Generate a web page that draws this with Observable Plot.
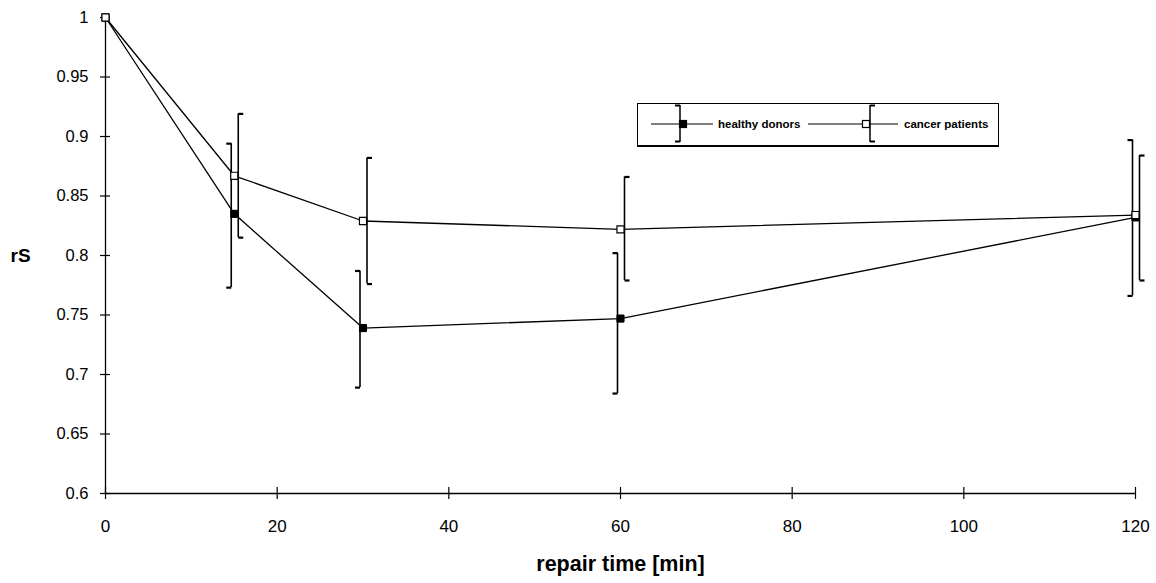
<!DOCTYPE html>
<html><head><meta charset="utf-8">
<script src="https://cdn.jsdelivr.net/npm/d3@7"></script>
<script src="https://cdn.jsdelivr.net/npm/@observablehq/plot@0.6"></script>
<style>
body{margin:0;background:#fff;}
#wrap{position:relative;width:1156px;height:583px;overflow:hidden;}
#legend{position:absolute;left:637px;top:103px;width:360px;height:41px;border:1px solid #000;border-bottom-width:2px;background:#fff;}
#legend svg{position:absolute;left:0;top:0;}
</style></head><body><div id="wrap"><div id="legend"></div></div>
<script>
// repair time [min]
const times = [0, 15, 30, 60, 120];
// healthy donors
const healthyMean = [1, 0.835, 0.739, 0.747, 0.832];
const healthyLow  = [1, 0.773, 0.689, 0.684, 0.766];
const healthyHigh = [1, 0.894, 0.787, 0.802, 0.897];
// cancer patients
const cancerMean = [1, 0.867, 0.829, 0.822, 0.834];
const cancerLow  = [1, 0.815, 0.776, 0.779, 0.779];
const cancerHigh = [1, 0.919, 0.882, 0.866, 0.884];
const seriesNames = ["healthy donors", "cancer patients"];
const xTicks = [0, 20, 40, 60, 80, 100, 120];
const yTicks = [0.6, 0.65, 0.7, 0.75, 0.8, 0.85, 0.9, 0.95, 1];

const healthy = times.map((t, i) => ({t, v: healthyMean[i], lo: healthyLow[i], hi: healthyHigh[i]}));
const cancer = times.map((t, i) => ({t, v: cancerMean[i], lo: cancerLow[i], hi: cancerHigh[i]}));
const hErr = healthy.filter(d => d.hi !== d.lo);
const cErr = cancer.filter(d => d.hi !== d.lo);

const capLeft = {draw(ctx, size) { const r = Math.sqrt(size / Math.PI); ctx.moveTo(-r, 0); ctx.lineTo(0, 0); }};
const capRight = {draw(ctx, size) { const r = Math.sqrt(size / Math.PI); ctx.moveTo(0, 0); ctx.lineTo(r, 0); }};

const font = "'Liberation Sans', Arial, sans-serif";

const chart = Plot.plot({
  width: 1156, height: 583,
  marginLeft: 105, marginRight: 21, marginTop: 17, marginBottom: 90,
  x: {domain: [0, 120]},
  y: {domain: [0.6, 1]},
  style: {fontFamily: font, background: "#fff", color: "#000", overflow: "visible"},
  marks: [
    Plot.ruleX([0], {stroke: "#000", strokeWidth: 1.3}),
    Plot.ruleY([0.6], {stroke: "#000", strokeWidth: 1.3}),
    Plot.axisY({ticks: yTicks, tickSize: 0, tickPadding: 17, tickFormat: d => String(d), fontSize: 16.5, label: null, style: {letterSpacing: "1px"}}),
    Plot.axisY({ticks: yTicks, tickSize: 10, dx: 5, tickFormat: () => "", label: null, strokeWidth: 1.2}),
    Plot.axisX({ticks: xTicks, tickSize: 0, tickPadding: 26, tickFormat: d => String(d), fontSize: 17, label: null}),
    Plot.axisX({ticks: xTicks, tickSize: 12, dy: -6, tickFormat: () => "", label: null, strokeWidth: 1.2}),
    Plot.text(["repair time [min]"], {frameAnchor: "bottom", dy: 77, fontSize: 21.5, fontWeight: "bold", style: {letterSpacing: "1px"}}),
    Plot.text(["rS"], {frameAnchor: "left", dx: -95, fontSize: 19, fontWeight: "bold", textAnchor: "start"}),
    // error bars healthy
    Plot.ruleX(hErr, {x: "t", y1: "lo", y2: "hi", dx: -3, stroke: "#000", strokeWidth: 1.6}),
    Plot.dot(hErr, {x: "t", y: "hi", symbol: capLeft, r: 5, dx: -3, stroke: "#000", strokeWidth: 2.2, fill: "none"}),
    Plot.dot(hErr, {x: "t", y: "lo", symbol: capLeft, r: 5, dx: -3, stroke: "#000", strokeWidth: 2.2, fill: "none"}),
    // error bars cancer
    Plot.ruleX(cErr, {x: "t", y1: "lo", y2: "hi", dx: 4, stroke: "#000", strokeWidth: 1.6}),
    Plot.dot(cErr, {x: "t", y: "hi", symbol: capRight, r: 5, dx: 4, stroke: "#000", strokeWidth: 2.2, fill: "none"}),
    Plot.dot(cErr, {x: "t", y: "lo", symbol: capRight, r: 5, dx: 4, stroke: "#000", strokeWidth: 2.2, fill: "none"}),
    // lines
    Plot.line(healthy, {x: "t", y: "v", stroke: "#000", strokeWidth: 1.3}),
    Plot.line(cancer, {x: "t", y: "v", stroke: "#000", strokeWidth: 1.3}),
    Plot.dot(healthy, {x: "t", y: "v", symbol: "square", r: 4, fill: "#000", stroke: "#000", strokeWidth: 1}),
    Plot.dot(cancer, {x: "t", y: "v", symbol: "square", r: 4, fill: "#fff", stroke: "#000", strokeWidth: 1.2})
  ]
});
document.getElementById("wrap").prepend(chart);

// legend (HTML overlay, drawn with d3)
const lg = d3.select("#legend").append("svg").attr("width", 360).attr("height", 41);
const entries = [
  {name: seriesNames[0], fill: "#000", lineX: [13, 75], sq: 45, bar: 42, cap: -5, text: 80},
  {name: seriesNames[1], fill: "#fff", lineX: [170, 260], sq: 228, bar: 232, cap: 5, text: 266}
];
for (const e of entries) {
  lg.append("line").attr("x1", e.lineX[0]).attr("x2", e.lineX[1]).attr("y1", 20).attr("y2", 20).attr("stroke", "#000").attr("stroke-width", 1.2);
  lg.append("line").attr("x1", e.bar).attr("x2", e.bar).attr("y1", 1).attr("y2", 38).attr("stroke", "#000").attr("stroke-width", 1.5);
  lg.append("line").attr("x1", e.bar).attr("x2", e.bar + e.cap).attr("y1", 1.5).attr("y2", 1.5).attr("stroke", "#000").attr("stroke-width", 2);
  lg.append("line").attr("x1", e.bar).attr("x2", e.bar + e.cap).attr("y1", 37.5).attr("y2", 37.5).attr("stroke", "#000").attr("stroke-width", 2);
  lg.append("rect").attr("x", e.sq - 3.5).attr("y", 16.5).attr("width", 7).attr("height", 7).attr("fill", e.fill).attr("stroke", "#000").attr("stroke-width", 1.2);
  lg.append("text").attr("x", e.text).attr("y", 24).attr("font-family", font).attr("font-size", 11.5).attr("font-weight", "bold").text(e.name);
}
</script>
</body></html>
